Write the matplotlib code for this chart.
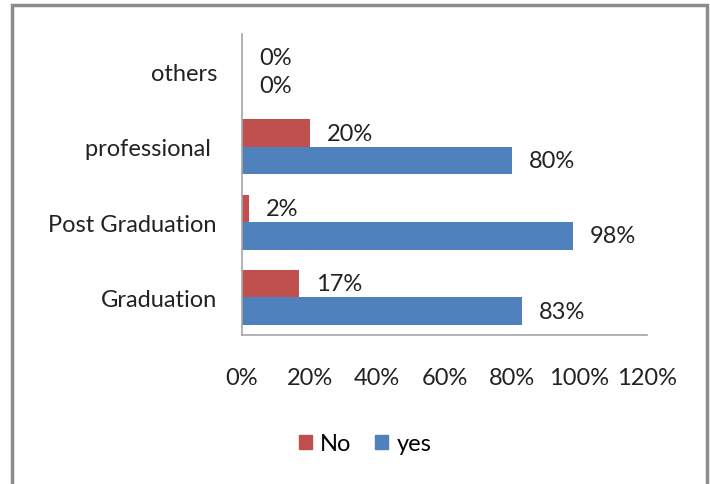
import matplotlib.pyplot as plt
from matplotlib.patches import Patch, Rectangle
import numpy as np

plt.rcParams['font.family'] = ['Lato', 'DejaVu Sans']

# categories bottom to top
categories = ['Graduation', 'Post Graduation', 'professional ', 'others']
no_vals = [17, 2, 20, 0]
yes_vals = [83, 98, 80, 0]
xticks = [0, 20, 40, 60, 80, 100, 120]

red = '#C0504D'
blue = '#4F81BD'
fs = 17

fig = plt.figure(figsize=(7.1, 4.85), dpi=100)
ax = fig.add_axes([242/710, 1-336/485, 405/710, 301/485])

y = np.arange(len(categories))
h = 0.367
ax.barh(y + h/2, no_vals, height=h, color=red)
ax.barh(y - h/2, yes_vals, height=h, color=blue)

for yi, v in zip(y, no_vals):
    ax.text(v + 5, yi + h/2, f'{v}%', va='center', ha='left', fontsize=fs, color='#222222')
for yi, v in zip(y, yes_vals):
    ax.text(v + 5, yi - h/2, f'{v}%', va='center', ha='left', fontsize=fs, color='#222222')

ax.set_xlim(0, 120)
ax.set_ylim(-0.5, 3.5)
ax.set_xticks(xticks)
ax.set_xticklabels([f'{t}%' for t in xticks])
ax.set_yticks(y)
ax.set_yticklabels(categories)
ax.tick_params(axis='x', length=0, pad=23, labelsize=fs, labelcolor='#222222')
ax.tick_params(axis='y', length=0, pad=18, labelsize=fs, labelcolor='#222222')

for s in ['top', 'right']:
    ax.spines[s].set_visible(False)
for s in ['left', 'bottom']:
    ax.spines[s].set_color('#a6a6a6')
    ax.spines[s].set_linewidth(1.2)

handles = [Patch(color=red, label='No'), Patch(color=blue, label='yes')]
fig.legend(handles=handles, loc='center', bbox_to_anchor=(365/710, 1-445/485),
           ncol=2, frameon=False, fontsize=fs, handlelength=0.55, handleheight=0.55,
           handletextpad=0.35, columnspacing=1.0)

# outer frame
fig.patches.append(Rectangle((12/710, -0.05), 695/710, 1.05 - 6/485,
                             transform=fig.transFigure, fill=False,
                             edgecolor='#8c8c8c', linewidth=2.5))

fig.savefig('out.png', dpi=100)
